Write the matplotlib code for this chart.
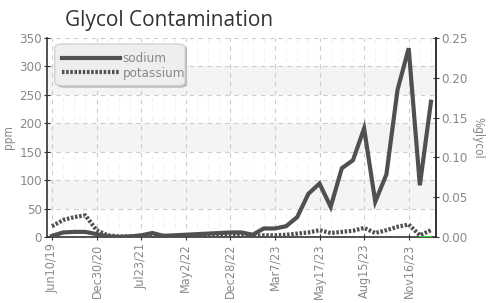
import matplotlib.pyplot as plt
import numpy as np
from matplotlib.patches import FancyBboxPatch

plt.rcParams['font.family'] = ['DejaVu Sans']
plt.rcParams['font.stretch'] = 'condensed'

# Data (ppm), one point per sample
sodium = [2, 8, 9, 9, 5, 1, 0, 1, 3, 7, 2, 3, 4, 5, 6, 7, 8, 8, 4,
          15, 15, 19, 35, 76, 94, 53, 121, 135, 191, 62, 110, 259, 332, 91, 238]
potassium = [19, 30, 35, 38, 12, 3, 1, 1, 2, 2, 2, 1, 2, 2, 3, 3, 3, 3, 2,
             3, 3, 4, 6, 8, 12, 7, 9, 11, 16, 7, 12, 18, 22, 3, 12]
# %glycol, only the last samples reported
glycol = [np.nan] * 33 + [0.0, 0.0]
tick_labels = ['Jun10/19', 'Dec30/20', 'Jul23/21', 'May2/22', 'Dec28/22',
               'Mar7/23', 'May17/23', 'Aug15/23', 'Nov16/23']

x = np.arange(len(sodium))
tick_pos = x[::4]

fig = plt.figure(figsize=(4.98, 3.03), dpi=100)
ax = fig.add_axes([0.0944, 0.2178, 0.7811, 0.6568])

# alternating bands
for lo in (50, 150, 250):
    ax.axhspan(lo, lo + 50, color='#f4f4f4', zorder=0, lw=0)

ax.plot(x, sodium, color='#505050', lw=3, solid_joinstyle='miter', label='sodium', zorder=3)
ax.plot(x, potassium, color='#505050', lw=3, linestyle=(0, (0.6, 0.4)), label='potassium', zorder=3)

ax.set_xlim(-0.45, len(sodium) - 0.55)
ax.set_ylim(0, 350)
ax.set_yticks(range(0, 351, 50))
ax.set_xticks(tick_pos)
ax.set_xticklabels(tick_labels, rotation=90)
ax.set_xticks(x, minor=True)

ax.grid(axis='y', color='#cccccc', linestyle=(0, (4, 4)), lw=0.8, zorder=1)
ax.grid(axis='x', which='major', color='#cccccc', linestyle=(0, (4, 4)), lw=0.8, zorder=1)
ax.grid(axis='x', which='minor', color='#f0f0f0', linestyle=(0, (4, 6)), lw=0.7, zorder=1)

ax.spines['top'].set_visible(False)
for s in ('left', 'right', 'bottom'):
    ax.spines[s].set_color('#333333')
    ax.spines[s].set_linewidth(1.2)

ax.tick_params(axis='y', direction='inout', length=5, colors='#333333', labelcolor='#888888',
               labelsize=9.5, pad=1)
ax.tick_params(axis='x', which='major', direction='inout', length=5, colors='#333333',
               labelcolor='#888888', labelsize=9, pad=2)
ax.tick_params(axis='x', which='minor', length=0)
ax.set_ylabel('ppm', color='#888888', fontsize=8.5, labelpad=3)

ax2 = ax.twinx()
ax2.plot(x, glycol, color='#33cc33', lw=1.5)
ax2.set_ylim(0, 0.25)
ax2.set_yticks(np.arange(0, 0.26, 0.05))
ax2.set_yticklabels(['%.2f' % v for v in np.arange(0, 0.26, 0.05)])
for s in ('top', 'left', 'bottom'):
    ax2.spines[s].set_visible(False)
ax2.spines['right'].set_color('#333333')
ax2.spines['right'].set_linewidth(1.2)
ax2.tick_params(axis='y', direction='inout', length=5, colors='#333333', labelcolor='#888888',
                labelsize=9.5, pad=1)
ax2.set_ylabel('%glycol', color='#888888', fontsize=8.5, rotation=270, labelpad=12)

# legend with rounded box
shadow = FancyBboxPatch((0.025, 0.75), 0.335, 0.21, boxstyle='round,pad=0,rounding_size=0.02',
                        transform=ax.transAxes, facecolor='#bbbbbb', edgecolor='none', zorder=4)
box = FancyBboxPatch((0.02, 0.76), 0.335, 0.21, boxstyle='round,pad=0,rounding_size=0.02',
                     transform=ax.transAxes, facecolor='#eeeeee', edgecolor='#cccccc', lw=0.8, zorder=5)
ax.add_patch(shadow)
ax.add_patch(box)
leg = ax.legend(loc='upper left', bbox_to_anchor=(0.025, 0.955), frameon=False, fontsize=9.5,
                handlelength=4.4, handletextpad=0.2, labelspacing=0.1, borderaxespad=0)
leg.set_zorder(6)
for t in leg.get_texts():
    t.set_color('#888888')

fig.text(0.13, 0.915, 'Glycol Contamination', fontsize=15, color='#333333',
         family=['Open Sans', 'DejaVu Sans'], stretch='normal')

fig.savefig('out.png', dpi=100)
